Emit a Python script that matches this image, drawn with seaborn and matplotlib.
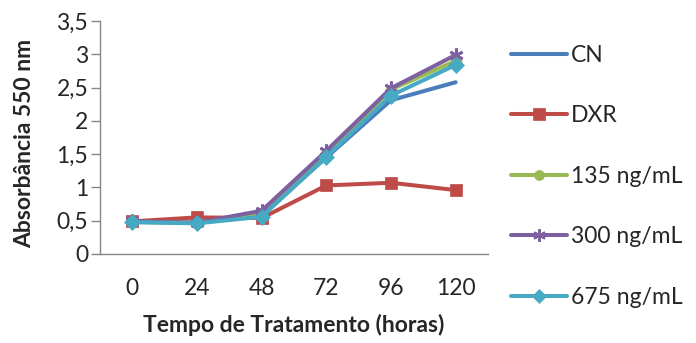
import matplotlib
matplotlib.use("Agg")
import matplotlib.pyplot as plt
import seaborn as sns
import pandas as pd
from matplotlib.lines import Line2D

sns.set_theme(style="white")
plt.rcParams["font.family"] = ["Lato", "DejaVu Sans"]

horas = ["0", "24", "48", "72", "96", "120"]
grupos = ["CN", "DXR", "135 ng/mL", "300 ng/mL", "675 ng/mL"]
cn = [0.48, 0.47, 0.58, 1.45, 2.31, 2.58]
dxr = [0.49, 0.55, 0.54, 1.03, 1.07, 0.96]
c135 = [0.48, 0.47, 0.62, 1.50, 2.47, 2.90]
c300 = [0.49, 0.47, 0.65, 1.55, 2.49, 2.99]
c675 = [0.48, 0.46, 0.56, 1.46, 2.38, 2.84]

cores = ["#4A7EBB", "#BE4B48", "#98B954", "#7D60A0", "#46AAC5"]
marcadores = ["", "s", "o", (6, 2, 0), "D"]
tamanhos = [0, 9, 8, 10, 8]
fs = 16.5

df = pd.DataFrame({
    "Tempo": horas * len(grupos),
    "Absorbancia": cn + dxr + c135 + c300 + c675,
    "Grupo": [g for g in grupos for _ in horas],
})

fig = plt.figure(figsize=(6.96, 3.43), dpi=100)
ax = fig.add_axes([100 / 696, 1 - 254 / 343, 388 / 696, 233 / 343])

for g, cor, mk, ms in zip(grupos, cores, marcadores, tamanhos):
    sub = df[df["Grupo"] == g]
    sns.pointplot(data=sub, x="Tempo", y="Absorbancia", order=horas,
                  color=cor, marker=mk if mk else None, markersize=ms,
                  linewidth=2.9, markeredgewidth=2 if g == "300 ng/mL" else 0.5,
                  markeredgecolor=cor, errorbar=None, ax=ax)

ax.set_xlim(-0.5, 5.5)
ax.set_ylim(0, 3.5)
yt = [0, 0.5, 1, 1.5, 2, 2.5, 3, 3.5]
ax.set_yticks(yt)
ax.set_yticklabels([f"{v:g}".replace(".", ",") for v in yt])
ax.tick_params(axis="y", direction="out", length=6.5, width=1, color="#868686",
               labelsize=fs, pad=2, left=True)
ax.tick_params(axis="x", length=0, labelsize=fs, pad=17)

for s in ["top", "right"]:
    ax.spines[s].set_visible(False)
for s in ["left", "bottom"]:
    ax.spines[s].set_color("#868686")
    ax.spines[s].set_linewidth(1)

ax.set_xlabel("Tempo de Tratamento (horas)", fontsize=fs, fontweight="bold", va="center")
ax.set_ylabel("Absorbância 550 nm", fontsize=fs, fontweight="bold", va="center")
ax.xaxis.set_label_coords(0.5, (254 - 325) / 233)
ax.yaxis.set_label_coords((25 - 100) / 388, (254 - 143) / 233)

handles = [Line2D([0], [0], color=c, lw=2.9, marker=m if m else None,
                  markersize=s * 0.9, markeredgecolor=c,
                  markeredgewidth=1.5 if g == "300 ng/mL" else 0.5)
           for g, c, m, s in zip(grupos, cores, marcadores, tamanhos)]
fig.legend(handles, grupos, loc="upper left", bbox_to_anchor=(511 / 696, 1 - 45 / 343),
           frameon=False, fontsize=fs, handlelength=2.45, handletextpad=0.15,
           labelspacing=1.72, borderaxespad=0, borderpad=0)

fig.savefig("out.png", dpi=100)
